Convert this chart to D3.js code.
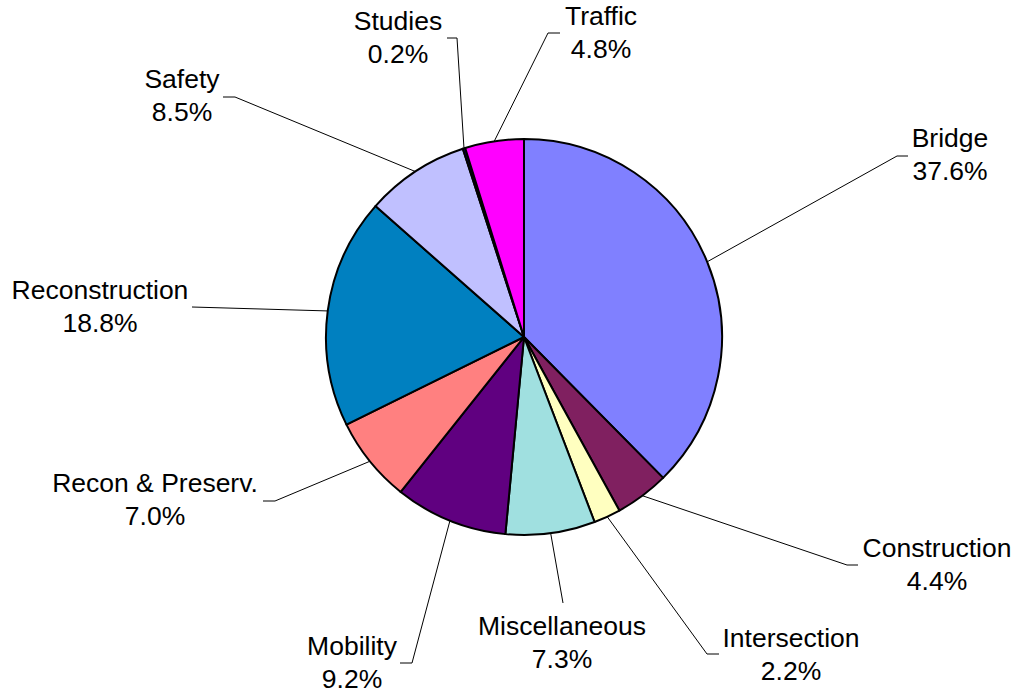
<!DOCTYPE html>
<html><head><meta charset="utf-8">
<script src="https://cdn.jsdelivr.net/npm/d3@7"></script>
<style>body{margin:0;background:#fff}svg{display:block}</style>
</head><body>
<script>
const categories = ["Bridge","Construction","Intersection","Miscellaneous","Mobility","Recon & Preserv.","Reconstruction","Safety","Studies","Traffic"];
const values = [37.6,4.4,2.2,7.3,9.2,7.0,18.8,8.5,0.2,4.8];
const colors = ["#8080FF","#802060","#FFFFC0","#A0E0E0","#600080","#FF8080","#0080C0","#C0C0FF","#000080","#FF00FF"];
// label layout: text center x, first baseline y, elbow point, end point
const labelLayout = [
  {tx:950, ty:147, ex:897, ey:156, hx:908, hy:156},
  {tx:937, ty:557, ex:847, ey:565, hx:858, hy:565},
  {tx:791, ty:647, ex:707, ey:654, hx:719, hy:654},
  {tx:562, ty:635, ex:563, ey:603, hx:563, hy:603},
  {tx:352, ty:655, ex:412, ey:663, hx:400, hy:663},
  {tx:155, ty:492, ex:275, ey:501, hx:263, hy:501},
  {tx:100, ty:299, ex:192, ey:307, hx:192, hy:307},
  {tx:182, ty:88,  ex:235, ey:97,  hx:223, hy:97},
  {tx:398, ty:30,  ex:457, ey:38,  hx:447, hy:38},
  {tx:601, ty:25,  ex:548, ey:33,  hx:560, hy:33}
];
const W=1016,H=694, cx=524, cy=337, R=198;
const svg=d3.select("body").append("svg").attr("width",W).attr("height",H);
const pie=d3.pie().sort(null).value(d=>d);
const arcs=pie(values);
const arc=d3.arc().innerRadius(0).outerRadius(R);
const g=svg.append("g").attr("transform",`translate(${cx},${cy})`);
g.selectAll("path").data(arcs).enter().append("path")
  .attr("d",arc).attr("fill",(d,i)=>colors[i])
  .attr("stroke","#000").attr("stroke-width",2).attr("stroke-linejoin","round");
// leaders
svg.selectAll("polyline.leader").data(arcs).enter().append("polyline")
  .attr("class","leader")
  .attr("points",(d,i)=>{
    const a=(d.startAngle+d.endAngle)/2;
    const sx=cx+R*Math.sin(a), sy=cy-R*Math.cos(a);
    const L=labelLayout[i];
    return `${sx},${sy} ${L.ex},${L.ey} ${L.hx},${L.hy}`;
  })
  .attr("fill","none").attr("stroke","#000").attr("stroke-width",1);
const fmt=d3.format(".1f");
const lbl=svg.selectAll("text.lbl").data(arcs).enter().append("text")
  .attr("class","lbl")
  .attr("text-anchor","middle")
  .attr("font-family","Liberation Sans, Arial, sans-serif")
  .attr("font-size","26.5px").attr("fill","#000");
lbl.append("tspan").attr("x",(d,i)=>labelLayout[i].tx).attr("y",(d,i)=>labelLayout[i].ty)
  .text((d,i)=>categories[i]);
lbl.append("tspan").attr("x",(d,i)=>labelLayout[i].tx).attr("y",(d,i)=>labelLayout[i].ty+33)
  .text((d,i)=>fmt(values[i])+"%");
</script>
</body></html>
